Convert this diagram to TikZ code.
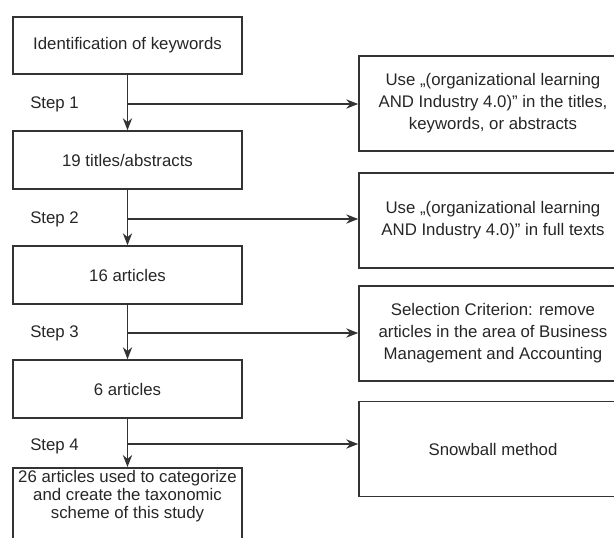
\documentclass[tikz,border=0pt]{standalone}
\usepackage{fontspec}
\setmainfont{Liberation Sans}
\usetikzlibrary{arrows.meta}
\definecolor{linecol}{HTML}{333333}
\definecolor{txtcol}{HTML}{262626}
\begin{document}
\begin{tikzpicture}[x=0.75pt,y=-0.75pt,
  lbox/.style={draw=linecol, line width=1.2pt, minimum width=171.75pt, minimum height=43.5pt, inner sep=0pt, text=txtcol, font=\fontsize{12.6}{13.5}\selectfont, align=center},
  rbox/.style={draw=linecol, line width=1.2pt, minimum width=201pt, minimum height=71.25pt, inner sep=0pt, text=txtcol, font=\fontsize{12.6}{16.6}\selectfont, align=center},
  plaintxt/.style={text=txtcol, font=\fontsize{12.6}{13.5}\selectfont, align=center, inner sep=0pt},
  steplbl/.style={text=txtcol, font=\fontsize{12.6}{15}\selectfont, anchor=west, inner sep=0pt},
  conn/.style={draw=linecol, line width=1.05pt},
  arr/.style={conn, -{Stealth[length=9pt,width=7pt]}}]
\useasboundingbox (0,0) rectangle (614,537);
\clip (0,0) rectangle (614,537);
% left column
\node[lbox, minimum height=42.75pt] (L1) at (127.5,45.5) {Identification of keywords};
\node[lbox] (L2) at (127.5,160) {19 titles/abstracts};
\node[lbox] (L3) at (127.5,275) {16 articles};
\node[lbox] (L4) at (127.5,389) {6 articles};
\node[lbox, anchor=north, minimum height=80pt] (L5box) at (127.5,467) {};
\node[plaintxt] (L5) at (127.5,496) {26 articles used to categorize\\and create the taxonomic\\scheme of this study};
% right column
\node[rbox] (R1) at (493,103.5) {Use „(organizational learning\\AND Industry 4.0)” in the titles,\\keywords, or abstracts};
\node[rbox] (R2) at (493,220.5) {Use „(organizational learning\\AND Industry 4.0)” in full texts};
\node[rbox] (R3) at (493,333.5) {Selection Criterion: remove\\articles in the area of Business\\Management and Accounting};
\node[rbox] (R4) at (493,449) {Snowball method};
% junctions
\coordinate (j1) at (127.5,104);
\coordinate (j2) at (127.5,219);
\coordinate (j3) at (127.5,333);
\coordinate (j4) at (127.5,444);
% step labels
\node[steplbl] (s1) at (30,104) {Step 1};
\node[steplbl] (s2) at (30,219) {Step 2};
\node[steplbl] (s3) at (30,333) {Step 3};
\node[steplbl] (s4) at (30,446) {Step 4};
% vertical arrows
\draw[arr] (L1.south) -- (L2.north);
\draw[arr] (L2.south) -- (L3.north);
\draw[arr] (L3.south) -- (L4.north);
\draw[arr] (L4.south) -- (L5box.north);
% horizontal arrows
\draw[arr] (j1) -- (j1 -| R1.west);
\draw[arr] (j2) -- (j2 -| R2.west);
\draw[arr] (j3) -- (j3 -| R3.west);
\draw[arr] (j4) -- (j4 -| R4.west);
\end{tikzpicture}
\end{document}
